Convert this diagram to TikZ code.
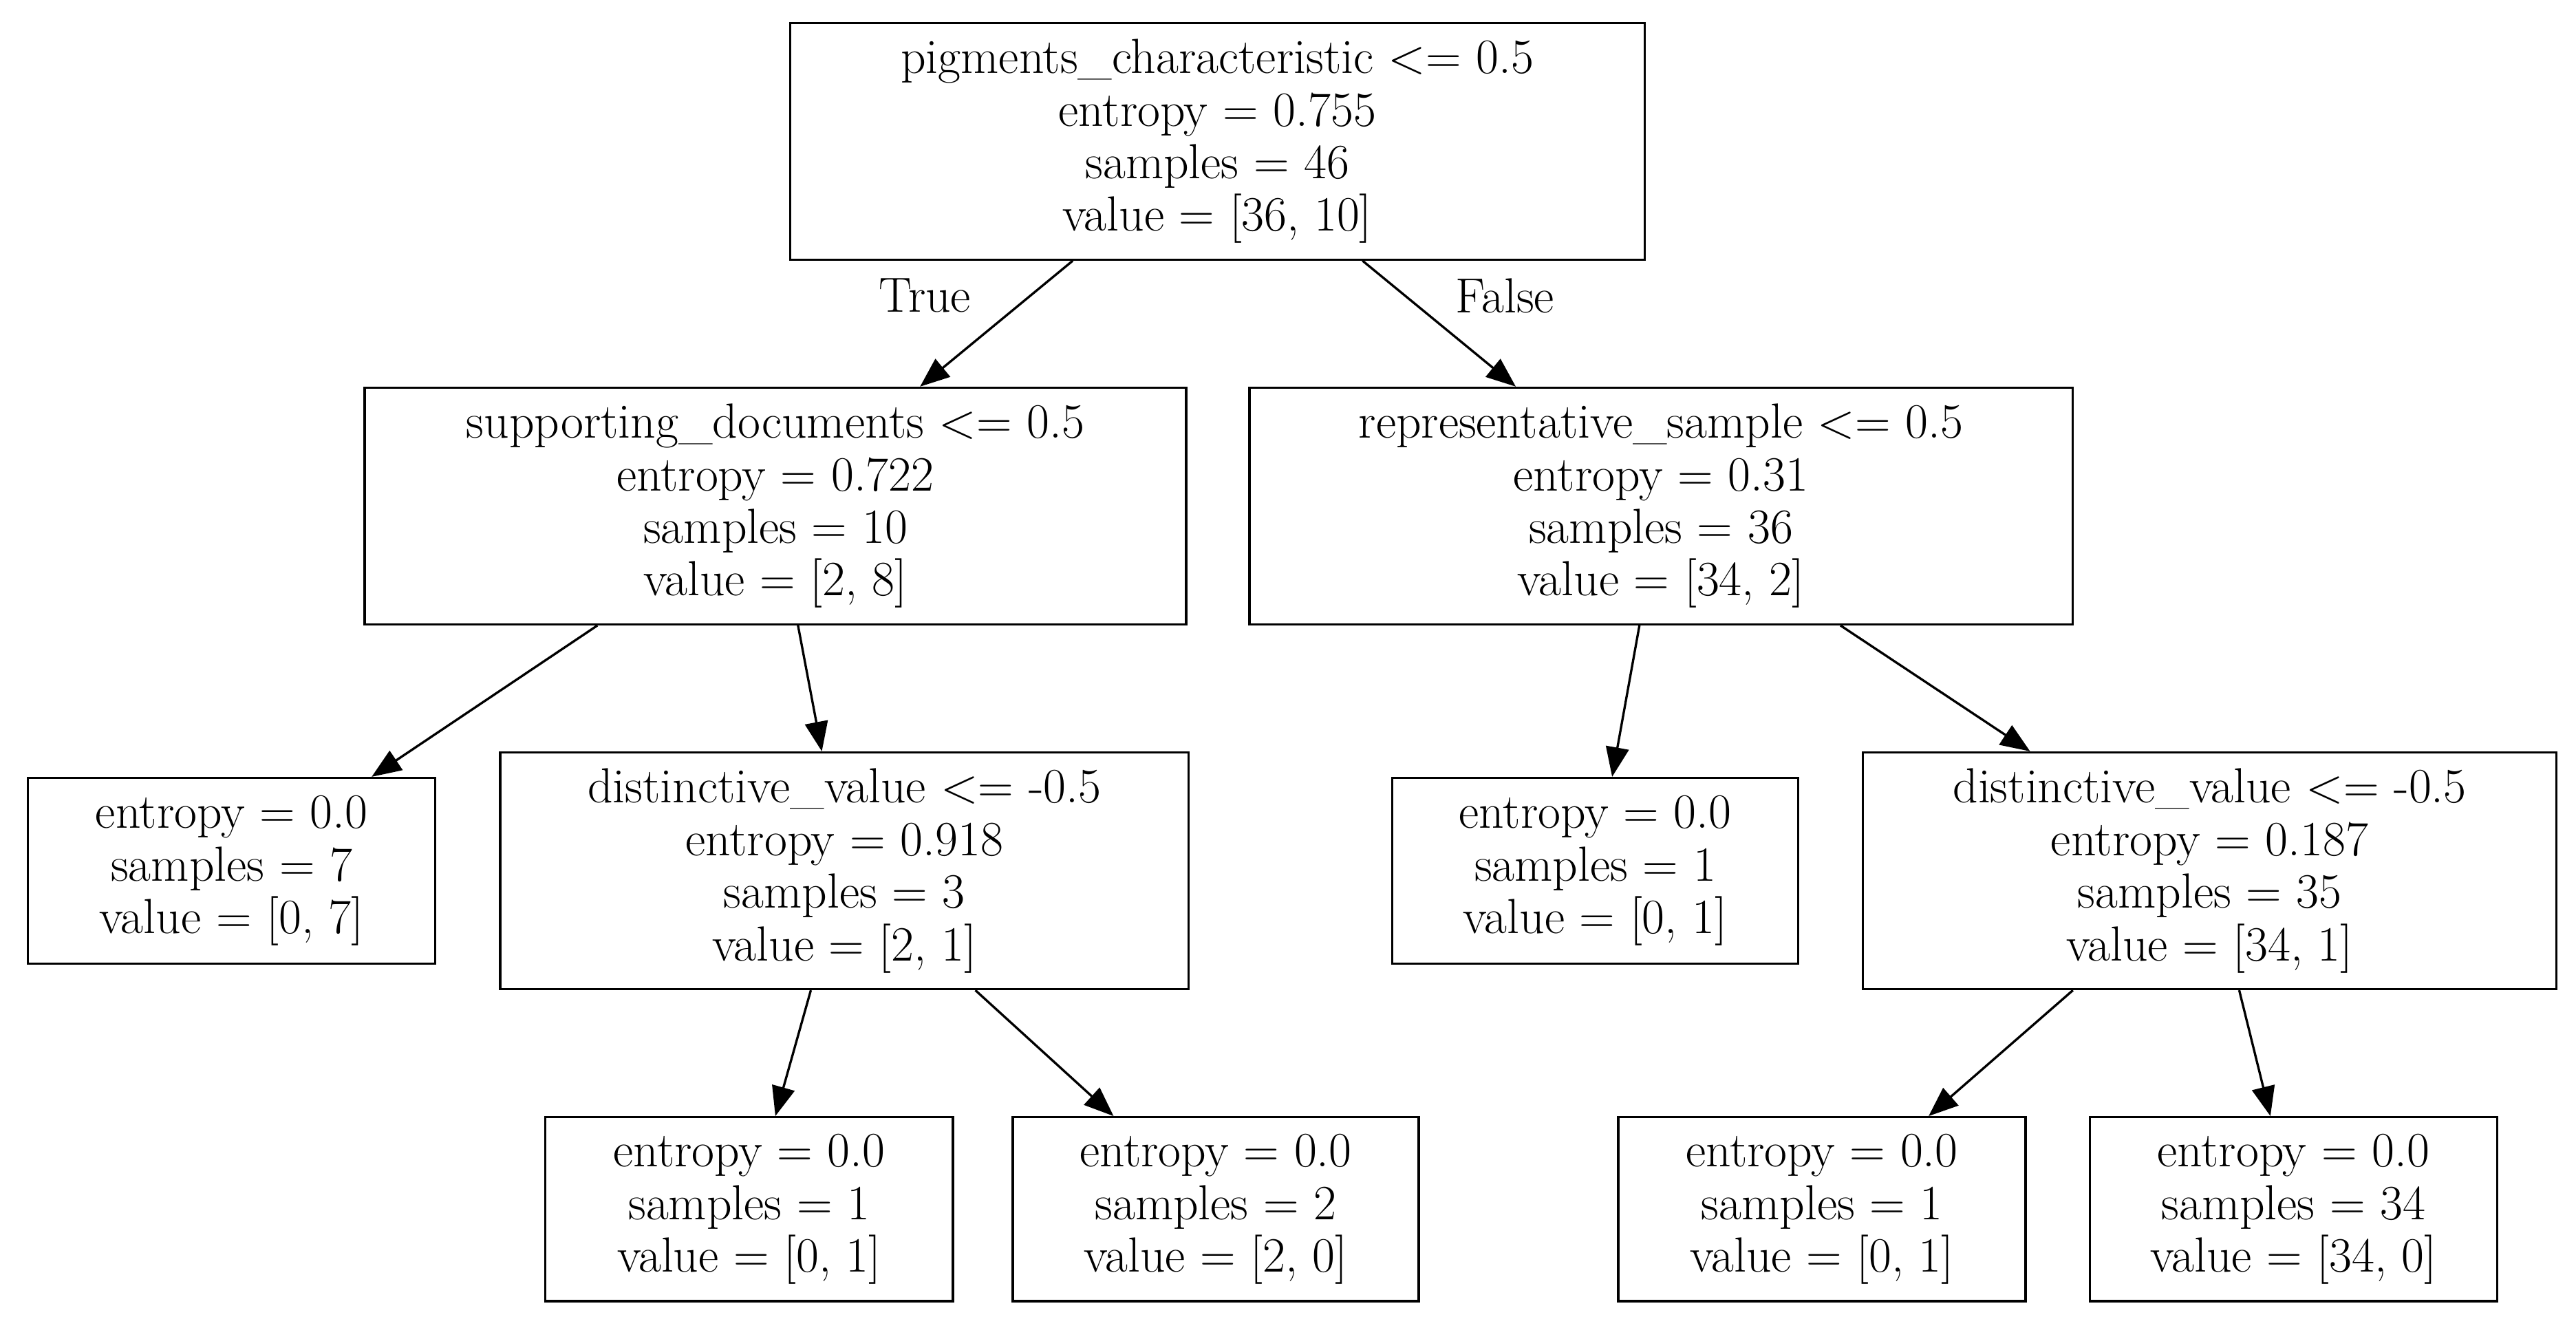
\documentclass[tikz,border=0pt]{standalone}
\usetikzlibrary{arrows.meta}
\begin{document}
\begin{tikzpicture}[x=0.5pt,y=-0.5pt,
  box/.style={draw,line width=0.7pt,align=center,inner sep=0pt,font=\fontsize{15}{16}\selectfont},
  edge/.style={line width=0.7pt,-{Triangle[length=9pt,width=7pt]}},
  lab/.style={font=\fontsize{15}{16}\selectfont}]
\useasboundingbox (0,0) rectangle (1568,808);
\node[box,minimum width=260pt,minimum height=72pt] (r) at (741,86) {pigments\_characteristic <= 0.5\\entropy = 0.755\\samples = 46\\value = [36, 10]};
\node[box,minimum width=250pt,minimum height=72pt] (l) at (472,308) {supporting\_documents <= 0.5\\entropy = 0.722\\samples = 10\\value = [2, 8]};
\node[box,minimum width=250.5pt,minimum height=72pt] (rr) at (1011,308) {representative\_sample <= 0.5\\entropy = 0.31\\samples = 36\\value = [34, 2]};
\node[box,minimum width=124pt,minimum height=56.5pt] (ll) at (141,530) {entropy = 0.0\\samples = 7\\value = [0, 7]};
\node[box,minimum width=209.5pt,minimum height=72pt] (lr) at (514,530) {distinctive\_value <= -0.5\\entropy = 0.918\\samples = 3\\value = [2, 1]};
\node[box,minimum width=123.5pt,minimum height=56.5pt] (rl) at (971,530) {entropy = 0.0\\samples = 1\\value = [0, 1]};
\node[box,minimum width=211pt,minimum height=72pt] (rrr) at (1345,530) {distinctive\_value <= -0.5\\entropy = 0.187\\samples = 35\\value = [34, 1]};
\node[box,minimum width=124pt,minimum height=56pt] (lrl) at (456,736) {entropy = 0.0\\samples = 1\\value = [0, 1]};
\node[box,minimum width=123.5pt,minimum height=56pt] (lrr) at (740,736) {entropy = 0.0\\samples = 2\\value = [2, 0]};
\node[box,minimum width=124pt,minimum height=56pt] (rrl) at (1109,736) {entropy = 0.0\\samples = 1\\value = [0, 1]};
\node[box,minimum width=124pt,minimum height=56pt] (rrrr) at (1396,736) {entropy = 0.0\\samples = 34\\value = [34, 0]};
\draw[edge] (r) -- (l);
\draw[edge] (r) -- (rr);
\draw[edge] (l) -- (ll);
\draw[edge] (l) -- (lr);
\draw[edge] (rr) -- (rl);
\draw[edge] (rr) -- (rrr);
\draw[edge] (lr) -- (lrl);
\draw[edge] (lr) -- (lrr);
\draw[edge] (rrr) -- (rrl);
\draw[edge] (rrr) -- (rrrr);
\node[lab] (t) at (563,180) {True};
\node[lab] (f) at (916,180) {False};
\end{tikzpicture}
\end{document}
